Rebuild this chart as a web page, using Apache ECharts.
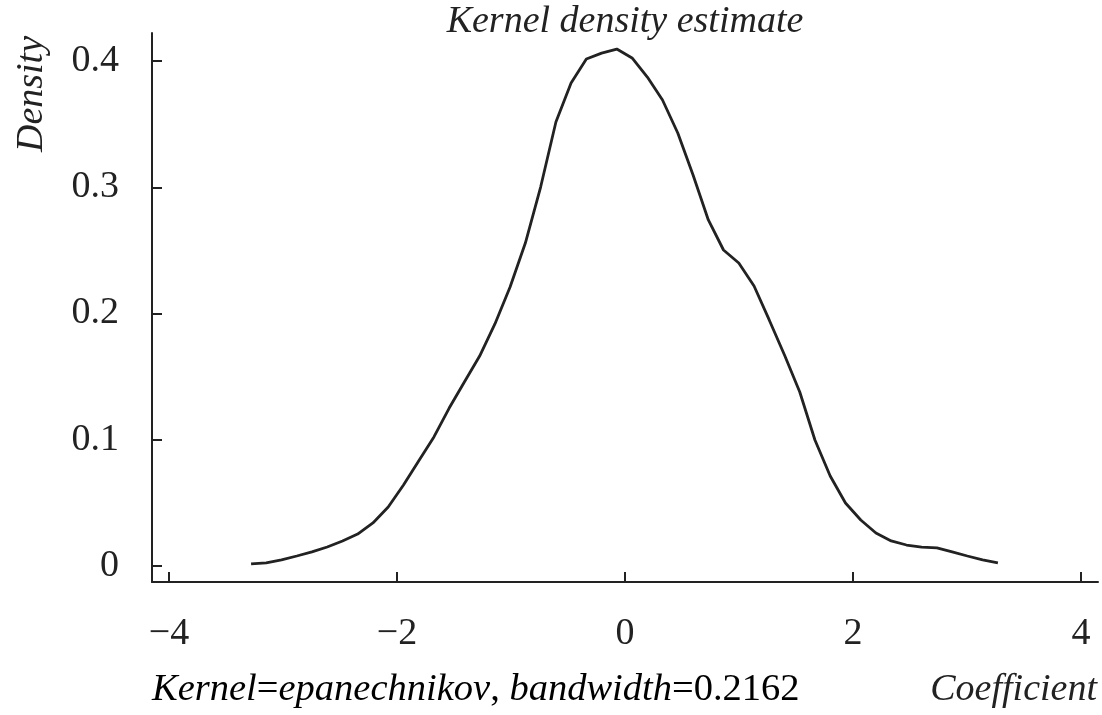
<!DOCTYPE html>
<html><head><meta charset="utf-8">
<script src="https://cdn.jsdelivr.net/npm/echarts@6/dist/echarts.min.js"></script>
<style>html,body{margin:0;padding:0;background:#fff}#c{width:1102px;height:715px}</style>
</head><body><div id="c"></div>
<script>
const coefficient = [-3.28,-3.147,-3.013,-2.879,-2.746,-2.612,-2.478,-2.345,-2.211,-2.077,-1.943,-1.810,-1.676,-1.542,-1.409,-1.275,-1.141,-1.008,-0.874,-0.740,-0.606,-0.473,-0.339,-0.205,-0.072,0.062,0.196,0.329,0.463,0.597,0.731,0.864,0.998,1.132,1.265,1.399,1.533,1.666,1.800,1.934,2.068,2.201,2.335,2.469,2.602,2.736,2.870,3.003,3.137,3.271];
const density = [0.0016,0.0024,0.0048,0.0079,0.0111,0.0150,0.0198,0.0253,0.0341,0.0467,0.0642,0.0832,0.1022,0.1251,0.1457,0.1663,0.1917,0.2210,0.2558,0.3002,0.3517,0.3826,0.4016,0.4063,0.4095,0.4024,0.3873,0.3691,0.3430,0.3097,0.2741,0.2503,0.2400,0.2218,0.1949,0.1671,0.1378,0.0998,0.0713,0.0499,0.0364,0.0261,0.0198,0.0166,0.0150,0.0143,0.0111,0.0079,0.0048,0.0024];
const xTicks = [-4,-2,0,2,4];
const yTicks = [0,0.1,0.2,0.3,0.4];
const titleText = 'Kernel density estimate';
const yName = 'Density';
const xName = 'Coefficient';
const note = {kernel:'epanechnikov', bandwidth:'0.2162'};

const FONT = '"Liberation Serif","Times New Roman",serif';
const INK = '#222';
const chart = echarts.init(document.getElementById('c'), null, {renderer:'canvas'});
const axisLine = {show:true, onZero:false, lineStyle:{color:INK, width:2}};
chart.setOption({
  animation:false,
  backgroundColor:'#fff',
  grid:{left:152, right:4, top:33, bottom:133},
  xAxis:{type:'value', min:-4.149, max:4.149, axisLine,
    axisTick:{show:true, inside:true, length:10, lineStyle:{color:INK,width:2}, customValues:xTicks},
    axisLabel:{customValues:xTicks, margin:33, fontFamily:FONT, fontSize:38, color:INK,
      formatter:v=> v<0 ? '\u2212'+Math.abs(v) : String(v)},
    splitLine:{show:false}},
  yAxis:{type:'value', min:-0.0127, max:0.4222, axisLine,
    axisTick:{show:true, inside:true, length:10, lineStyle:{color:INK,width:2}, customValues:yTicks},
    axisLabel:{customValues:yTicks, margin:33, fontFamily:FONT, fontSize:38, color:INK,
      formatter:v=> String(Math.round(v*10)/10)},
    splitLine:{show:false}},
  series:[{type:'line', data:coefficient.map((x,i)=>[x,density[i]]), showSymbol:false, symbol:'none',
    lineStyle:{color:INK, width:2.8}, smooth:false}],
  graphic:[
    {type:'text', x:625, y:22, style:{text:titleText, font:'italic 38px '+FONT, fill:INK, align:'center', verticalAlign:'middle'}},
    {type:'text', x:32, y:94, rotation:Math.PI/2, style:{text:yName, font:'italic 38px '+FONT, fill:INK, align:'center', verticalAlign:'middle'}},
    {type:'text', x:1097, y:690, style:{text:xName, font:'italic 38px '+FONT, fill:INK, align:'right', verticalAlign:'middle'}},
    {type:'text', x:152, y:690, style:{
      text:'{i|Kernel}{n|=}{i|'+note.kernel+'}{n|, }{i|bandwidth}{n|='+note.bandwidth+'}',
      verticalAlign:'middle', align:'left',
      rich:{i:{fontFamily:FONT, fontStyle:'italic', fontSize:38.5, color:INK}, n:{fontFamily:FONT, fontSize:38.5, color:INK}}}}
  ]
});
</script></body></html>
